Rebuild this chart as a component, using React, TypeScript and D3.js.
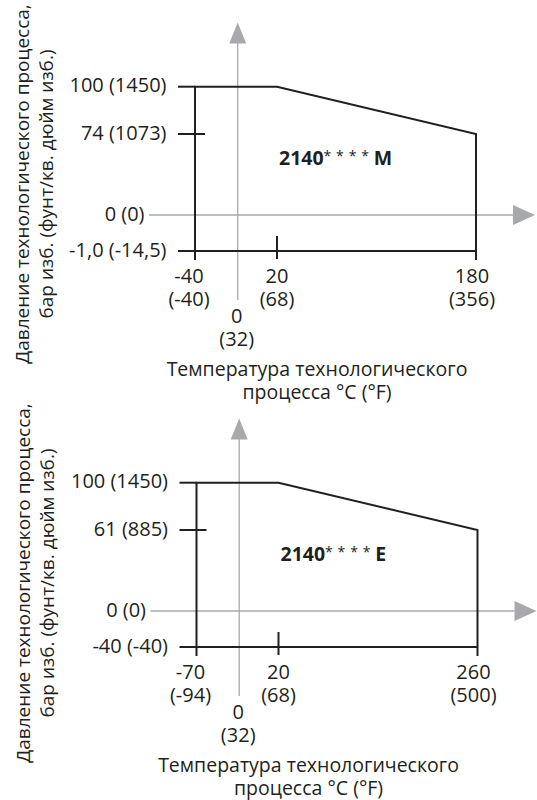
import React from 'react';
import * as d3 from 'd3';

// two rating panels, same layout, different model / limits
const panelSuffix = ['M', 'E'];
const modelPrefix = '2140';
const modelStars = '****';

const tempMinC = [-40, -70];
const tempMinF = [-40, -94];
const tempMaxC = [180, 260];
const tempMaxF = [356, 500];
const tempKneeC = 20;
const tempKneeF = 68;
const tempZeroC = 0;
const tempZeroF = 32;

const pressTopBar = 100;
const pressTopLabel = '100 (1450)';
const pressHighBar = [74, 61];
const pressHighLabel = ['74 (1073)', '61 (885)'];
const pressZeroLabel = '0 (0)';
const pressMinBar = [-1.0, -40];
const pressMinLabel = ['-1,0 (-14,5)', '-40 (-40)'];

const yTitle = ['Давление технологического процесса,', 'бар изб. (фунт/кв. дюйм изб.)'];
const xTitle = ['Температура технологического', 'процесса °C (°F)'];

const panels = [
  { dx: 0, dy: 0, titleX: 317, yTitleY: 184 },
  { dx: 1.5, dy: 396, titleX: 307, yTitleY: 187 },
];

const INK = '#231f20';
const GREY = '#a7a9ac';
const FONT = '"Open Sans", "Noto Sans", sans-serif';
const FS = 19.5;
const FS_NUM = 20;

function Panel({ i, dx, dy, titleX, yTitleY }) {
  const tMin = tempMinC[i];
  const tMax = tempMaxC[i];
  const pMin = pressMinBar[i];
  const pHigh = pressHighBar[i];

  // schematic (not to scale) axes -> piecewise scales
  const x = d3.scaleLinear()
    .domain([tMin, tempZeroC, tempKneeC, tMax])
    .range([195, 237.7, 277, 476]);
  const y = d3.scaleLinear()
    .domain([pMin, 0, pHigh, pressTopBar])
    .range([251, 215, 134, 86.7]);

  const line = d3.line();
  const envelope = line([
    [x(tMin), y(pMin) + 9],
    [x(tMin), y(pressTopBar)],
    [x(tempKneeC), y(pressTopBar)],
    [x(tMax), y(pHigh)],
    [x(tMax), y(pMin) + 9],
  ]);

  const x0 = x(tempZeroC);
  const y0 = y(0);

  const xTicks = [
    { c: tMin, f: tempMinF[i], off: -6, row: 0 },
    { c: tempKneeC, f: tempKneeF, off: 0, row: 0 },
    { c: tMax, f: tempMaxF[i], off: -4, row: 0 },
    { c: tempZeroC, f: tempZeroF, off: -1, row: 1 },
  ];

  const yLabels = [
    { v: pressTopBar, t: pressTopLabel, xe: 166.5 },
    { v: pHigh, t: pressHighLabel[i], xe: 166.5 },
    { v: 0, t: pressZeroLabel, xe: 144.5 },
    { v: pMin, t: pressMinLabel[i], xe: 166.5 },
  ];

  return (
    <g transform={`translate(${dx},${dy})`} fontFamily={FONT} fill={INK}>
      {/* grey reference axes */}
      <line x1={149} x2={513} y1={y0} y2={y0} stroke={GREY} strokeWidth={1.3} />
      <polygon points={`513,${y0 - 10} 535,${y0} 513,${y0 + 10}`} fill={GREY} />
      <line x1={x0} x2={x0} y1={300} y2={43} stroke={GREY} strokeWidth={1.3} />
      <polygon points={`${x0 - 8.5},43.5 ${x0},22.5 ${x0 + 8.5},43.5`} fill={GREY} />

      {/* operating envelope */}
      <path d={envelope} fill="none" stroke={INK} strokeWidth={2} />
      <line x1={x(tMin) - 17} x2={x(tMin)} y1={y(pressTopBar)} y2={y(pressTopBar)} stroke={INK} strokeWidth={2} />
      <line x1={x(tMin) - 17} x2={x(tMin) + 10} y1={y(pHigh)} y2={y(pHigh)} stroke={INK} strokeWidth={2} />
      <line x1={x(tMin) - 17} x2={x(tMax)} y1={y(pMin)} y2={y(pMin)} stroke={INK} strokeWidth={2} />
      <line x1={x(tempKneeC)} x2={x(tempKneeC)} y1={y(pMin) - 15} y2={y(pMin) + 8} stroke={INK} strokeWidth={2} />

      {yLabels.map((d) => (
        <text key={d.t} x={d.xe} y={y(d.v) + 5.5} textAnchor="end" fontSize={FS_NUM}>{d.t}</text>
      ))}

      {xTicks.map((d) => {
        const base = y(pMin) + (d.row ? 71.5 : 31.7);
        return (
          <text key={d.c} textAnchor="middle" fontSize={FS_NUM}>
            <tspan x={x(d.c) + d.off} y={base}>{d.c}</tspan>
            <tspan x={x(d.c) + d.off} y={base + 23.5}>({d.f})</tspan>
          </text>
        );
      })}

      <text x={x(tempKneeC) + 2} y={y(pHigh) + 31} fontSize={FS} fontWeight="bold">
        {modelPrefix}
        <tspan fontWeight="normal" fontSize={14} dy={-4} letterSpacing={4.8}>{modelStars}</tspan>
        <tspan dy={4}>{panelSuffix[i]}</tspan>
      </text>

      <text textAnchor="middle" fontSize={FS}>
        <tspan x={titleX} y={376}>{xTitle[0]}</tspan>
        <tspan x={titleX} y={399}>{xTitle[1]}</tspan>
      </text>

      <g transform={`translate(0,${yTitleY}) rotate(-90)`}>
        <text textAnchor="middle" fontSize={19}>
          <tspan x={0} y={28.5}>{yTitle[0]}</tspan>
          <tspan x={0} y={52.5}>{yTitle[1]}</tspan>
        </text>
      </g>
    </g>
  );
}

export default function App() {
  return (
    <div style={{ position: 'absolute', left: 0, top: 0 }}>
      <svg width={537} height={800} style={{ display: 'block', background: '#fff' }}>
        {panels.map((p, i) => (
          <Panel key={i} i={i} {...p} />
        ))}
      </svg>
    </div>
  );
}
